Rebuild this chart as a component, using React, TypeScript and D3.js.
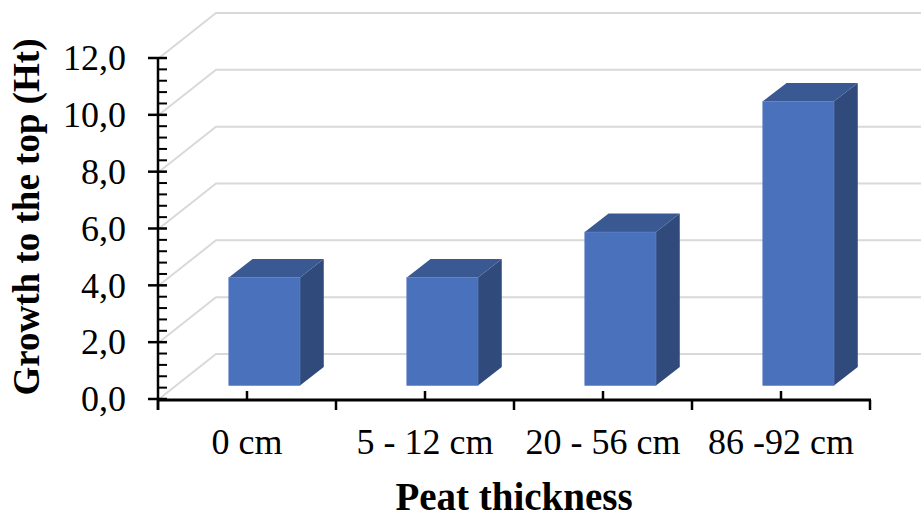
import React, { useEffect, useRef } from 'react';
import * as d3 from 'd3';

const categories: string[] = ['0 cm', '5 - 12 cm', '20 - 56 cm', '86 -92 cm'];
const growthValues: number[] = [3.8, 3.8, 5.4, 10.0];
const yTickValues: number[] = [0, 2, 4, 6, 8, 10, 12];

const width = 921;
const height = 519;

const App: React.FC = () => {
  const svgRef = useRef<SVGSVGElement>(null);

  useEffect(() => {
    if (!svgRef.current) return;
    const svg = d3.select(svgRef.current);
    svg.selectAll('*').remove();

    const font = '"Liberation Serif", "Times New Roman", serif';

    // ### Scales
    const xScale = d3.scaleBand<string>().domain(categories).range([158, 870]).paddingInner(0).paddingOuter(0);
    const yScale = d3.scaleLinear().domain([0, 12]).range([399, 58]);

    // depth vector of the 3D box (oblique projection)
    const depth = { dx: 58, dy: -45 };
    const frontDepth = 0.3;
    const backDepth = 0.71;

    // ### Gridlines (side wall + back wall)
    const grid = svg.append('g');
    yTickValues.forEach(v => {
      const y = yScale(v);
      grid
        .append('path')
        .attr('d', `M${158 + 1},${y} L${158 + depth.dx},${y + depth.dy} L${width},${y + depth.dy}`)
        .attr('fill', 'none')
        .attr('stroke', '#d9d9d9')
        .attr('stroke-width', 2);
    });

    // ### Bars
    const bw = xScale.bandwidth() * 0.4;
    const bars = svg.append('g');
    categories.forEach((c, i) => {
      const cx = (xScale(c) as number) + xScale.bandwidth() / 2;
      const ox = depth.dx * frontDepth;
      const oy = depth.dy * frontDepth;
      const sx = depth.dx * (backDepth - frontDepth);
      const sy = depth.dy * (backDepth - frontDepth);
      const x0 = cx - bw / 2 + ox;
      const x1 = cx + bw / 2 + ox;
      const yb = yScale(0) + oy;
      const yt = yScale(growthValues[i]) + oy;

      // side face
      bars
        .append('path')
        .attr('d', `M${x1},${yt} L${x1 + sx},${yt + sy} L${x1 + sx},${yb + sy} L${x1},${yb} Z`)
        .attr('fill', '#314A7C');
      // top face
      bars
        .append('path')
        .attr('d', `M${x0},${yt} L${x0 + sx},${yt + sy} L${x1 + sx},${yt + sy} L${x1},${yt} Z`)
        .attr('fill', '#3A5891');
      // front face
      bars
        .append('rect')
        .attr('x', x0)
        .attr('y', yt)
        .attr('width', bw)
        .attr('height', yb - yt)
        .attr('fill', '#4A72BC')
        .attr('stroke', '#5b7fc4')
        .attr('stroke-width', 0.6);
    });

    // ### Y axis
    const yAxisG = svg.append('g');
    yAxisG
      .append('line')
      .attr('x1', 158)
      .attr('x2', 158)
      .attr('y1', yScale(12))
      .attr('y2', 410)
      .attr('stroke', '#000')
      .attr('stroke-width', 2.5);
    const minorTicks = d3.range(0, 12.0001, 0.4).filter(v => Math.abs(v / 2 - Math.round(v / 2)) > 0.01);
    minorTicks.forEach(v => {
      yAxisG
        .append('line')
        .attr('x1', 158)
        .attr('x2', 167)
        .attr('y1', yScale(v))
        .attr('y2', yScale(v))
        .attr('stroke', '#000')
        .attr('stroke-width', 2);
    });
    yTickValues.forEach(v => {
      yAxisG
        .append('line')
        .attr('x1', 148)
        .attr('x2', 167)
        .attr('y1', yScale(v))
        .attr('y2', yScale(v))
        .attr('stroke', '#000')
        .attr('stroke-width', 2.5);
      yAxisG
        .append('text')
        .attr('x', 126)
        .attr('y', yScale(v))
        .attr('dy', '0.34em')
        .attr('text-anchor', 'end')
        .attr('font-family', font)
        .attr('font-size', '36px')
        .attr('fill', '#000')
        .text(d3.format('.1f')(v).replace('.', ','));
    });

    // ### X axis
    const xAxisG = svg.append('g');
    xAxisG
      .append('line')
      .attr('x1', 158)
      .attr('x2', 871)
      .attr('y1', 400)
      .attr('y2', 400)
      .attr('stroke', '#000')
      .attr('stroke-width', 3);
    const boundaries = [...categories.map(c => xScale(c) as number), 870];
    boundaries.forEach(b => {
      xAxisG
        .append('line')
        .attr('x1', b)
        .attr('x2', b)
        .attr('y1', 400)
        .attr('y2', 410)
        .attr('stroke', '#000')
        .attr('stroke-width', 2.5);
    });
    categories.forEach(c => {
      const cx = (xScale(c) as number) + xScale.bandwidth() / 2;
      xAxisG
        .append('line')
        .attr('x1', cx)
        .attr('x2', cx)
        .attr('y1', 391)
        .attr('y2', 400)
        .attr('stroke', '#000')
        .attr('stroke-width', 2.5);
      xAxisG
        .append('text')
        .attr('x', cx)
        .attr('y', 454)
        .attr('text-anchor', 'middle')
        .attr('font-family', font)
        .attr('font-size', '36px')
        .attr('fill', '#000')
        .text(c);
    });

    // ### Axis titles
    svg
      .append('text')
      .attr('x', 514)
      .attr('y', 510)
      .attr('text-anchor', 'middle')
      .attr('font-family', font)
      .attr('font-weight', 'bold')
      .attr('font-size', '39px')
      .attr('fill', '#000')
      .text('Peat thickness');

    svg
      .append('text')
      .attr('transform', 'translate(39, 217) rotate(-90)')
      .attr('text-anchor', 'middle')
      .attr('font-family', font)
      .attr('font-weight', 'bold')
      .attr('font-size', '37px')
      .attr('fill', '#000')
      .text('Growth to the top (Ht)');
  }, []);

  return (
    <div style={{ position: 'absolute', left: 0, top: 0, width, height, background: '#fff' }}>
      <svg ref={svgRef} width={width} height={height} style={{ display: 'block' }}></svg>
    </div>
  );
};

export default App;
